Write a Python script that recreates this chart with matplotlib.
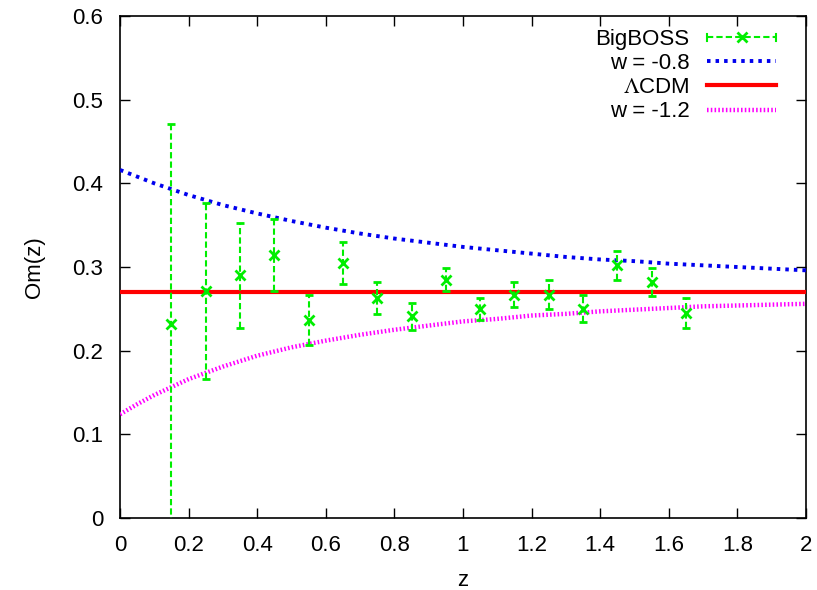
import matplotlib
matplotlib.use("Agg")
import matplotlib.pyplot as plt
from matplotlib.lines import Line2D
from matplotlib.legend_handler import HandlerBase

plt.rcParams['font.family'] = ['Liberation Sans', 'DejaVu Sans']
plt.rcParams['mathtext.fontset'] = 'stix'

# BigBOSS Om(z) measurements
z_data = [0.15, 0.25, 0.35, 0.45, 0.55, 0.65, 0.75, 0.85, 0.95, 1.05,
          1.15, 1.25, 1.35, 1.45, 1.55, 1.65]
om_data = [0.232, 0.271, 0.290, 0.314, 0.237, 0.305, 0.263, 0.241, 0.285, 0.250,
           0.267, 0.267, 0.250, 0.302, 0.282, 0.245]
om_err = [0.239, 0.105, 0.063, 0.043, 0.030, 0.025, 0.019, 0.016, 0.014, 0.013,
          0.015, 0.017, 0.016, 0.017, 0.017, 0.018]

# model curves
z_curve = [0.0, 0.05, 0.1, 0.2, 0.3, 0.4, 0.5, 0.6, 0.7, 0.8, 0.9, 1.0,
           1.1, 1.2, 1.3, 1.4, 1.5, 1.6, 1.7, 1.8, 1.9, 2.0]
om_w08 = [0.416, 0.408, 0.400, 0.386, 0.374, 0.364, 0.355, 0.347, 0.340, 0.334,
          0.329, 0.324, 0.320, 0.316, 0.312, 0.309, 0.307, 0.304, 0.302, 0.300,
          0.298, 0.296]
om_w12 = [0.124, 0.136, 0.147, 0.166, 0.181, 0.194, 0.204, 0.212, 0.219, 0.225,
          0.230, 0.235, 0.238, 0.242, 0.244, 0.247, 0.249, 0.251, 0.253, 0.254,
          0.255, 0.256]
z_lcdm = [0.0, 2.0]
om_lcdm = [0.27, 0.27]

labels = ['BigBOSS', 'w = -0.8', r'$\Lambda$CDM', 'w = -1.2']

green = '#00ee00'
dash_g = (0, (3, 1.5))

fig = plt.figure(figsize=(8.17, 5.90), dpi=100)
ax = fig.add_axes([0.1469, 0.1220, 0.8396, 0.8509])

eb = ax.errorbar(z_data, om_data, yerr=om_err, fmt='x', color=green, ecolor=green,
                 markersize=7, markeredgewidth=2, elinewidth=1.5, capsize=3,
                 capthick=1.5, linestyle='none', zorder=4)
eb[-1][0].set_linestyle(dash_g)
l08, = ax.plot(z_curve, om_w08, color='#0000ee', lw=2.8, linestyle=(0, (0.9, 1.3)),
               zorder=3)
llc, = ax.plot(z_lcdm, om_lcdm, color='#ff0000', lw=3, zorder=3)
l12, = ax.plot(z_curve, om_w12, color='#ff00ff', lw=3.2, linestyle=(0, (0.35, 0.5)),
               zorder=3)

ax.set_xlim(0, 2)
ax.set_ylim(0, 0.6)
ax.set_xticks([0, 0.2, 0.4, 0.6, 0.8, 1, 1.2, 1.4, 1.6, 1.8, 2])
ax.set_xticklabels(['0', '0.2', '0.4', '0.6', '0.8', '1', '1.2', '1.4', '1.6', '1.8', '2'])
ax.set_yticks([0, 0.1, 0.2, 0.3, 0.4, 0.5, 0.6])
ax.set_yticklabels(['0', '0.1', '0.2', '0.3', '0.4', '0.5', '0.6'])
ax.tick_params(direction='in', length=7, width=1, top=True, right=True,
               labelsize=16, pad=12, colors='black')
for s in ax.spines.values():
    s.set_linewidth(1.2)
ax.set_xlabel('z', fontsize=16, labelpad=10)
ax.set_ylabel('Om(z)', fontsize=16, labelpad=20)


class HandlerGP(HandlerBase):
    def create_artists(self, legend, orig_handle, xdescent, ydescent, width,
                       height, fontsize, trans):
        y = height / 2 - ydescent
        x0, x1 = -xdescent, width - xdescent
        h = height * 0.22
        arts = [
            Line2D([x0, x1], [y, y], color=green, lw=1.5, linestyle=dash_g),
            Line2D([x0, x0], [y - h, y + h], color=green, lw=1.5),
            Line2D([x1, x1], [y - h, y + h], color=green, lw=1.5),
            Line2D([(x0 + x1) / 2], [y], color=green, marker='x', markersize=7,
                   markeredgewidth=2, linestyle='none'),
        ]
        for a in arts:
            a.set_transform(trans)
        return arts


leg = ax.legend([eb, l08, llc, l12], labels, loc='upper right',
                bbox_to_anchor=(1 - 30/686, 1 - 13/502),
                markerfirst=False, frameon=False, fontsize=16, handlelength=3.1,
                handletextpad=0.8, labelspacing=0.14, borderpad=0, borderaxespad=0,
                handler_map={eb: HandlerGP()})

fig.savefig('out.png', dpi=100)
